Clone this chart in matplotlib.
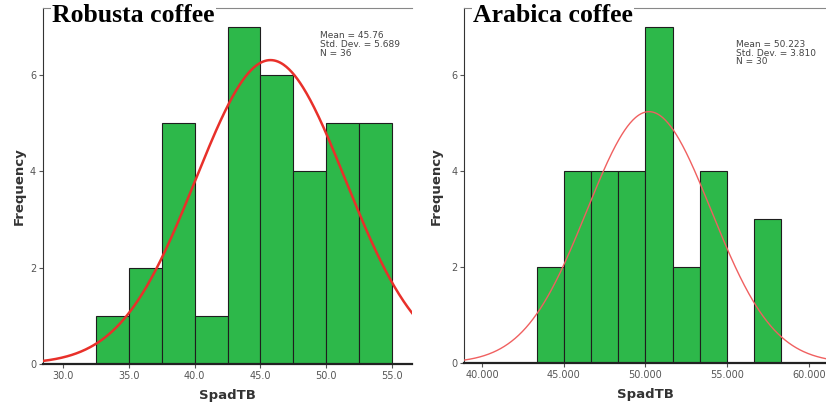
import numpy as np
import matplotlib
matplotlib.use("Agg")
import matplotlib.pyplot as plt

# histogram counts
rob_edges = [32.5, 35.0, 37.5, 40.0, 42.5, 45.0, 47.5, 50.0, 52.5, 55.0]
rob_counts = [1, 2, 5, 1, 7, 6, 4, 5, 5]
rob_mean, rob_sd, rob_n = 45.76, 5.689, 36

ara_edges = [43.333, 45.0, 46.667, 48.333, 50.0, 51.667, 53.333, 55.0, 56.667, 58.333]
ara_counts = [2, 4, 4, 4, 7, 2, 4, 0, 3]
ara_mean, ara_sd, ara_n = 50.223, 3.810, 30

rob_ticks = [30.0, 35.0, 40.0, 45.0, 50.0, 55.0]
ara_ticks = [40.0, 45.0, 50.0, 55.0, 60.0]

green = "#2db84a"
grey_txt = "#555555"


def panel(ax, edges, counts, mean, sd, n, xlim, xticks, tickfmt, title, stats, lw, red, ypad):
    edges = np.array(edges)
    widths = np.diff(edges)
    ax.bar(edges[:-1], counts, width=widths, align="edge", color=green,
           edgecolor="#1e1e1e", linewidth=0.8, zorder=2)
    bw = widths.mean()
    xs = np.linspace(xlim[0], xlim[1], 400)
    ys = n * bw / (sd * np.sqrt(2 * np.pi)) * np.exp(-0.5 * ((xs - mean) / sd) ** 2)
    ax.plot(xs, ys, color=red, linewidth=lw, zorder=3)
    ax.set_xlim(*xlim)
    ax.set_ylim(0, 7.39)
    ax.set_xticks(xticks)
    ax.set_xticklabels([tickfmt % t for t in xticks], fontsize=7, color=grey_txt)
    ax.set_yticks([0, 2, 4, 6])
    ax.set_yticklabels(["0", "2", "4", "6"], fontsize=7, color=grey_txt)
    ax.tick_params(length=3, width=0.8, colors="#555555", pad=2)
    ax.set_xlabel("SpadTB", fontsize=9.5, fontweight="bold", color="#333333", labelpad=6)
    ax.set_ylabel("Frequency", fontsize=9.5, fontweight="bold", color="#333333", labelpad=ypad)
    ax.spines["top"].set_color("#888888")
    ax.spines["top"].set_linewidth(0.8)
    ax.spines["right"].set_visible(False)
    ax.spines["left"].set_color("#333333")
    ax.spines["bottom"].set_color("#222222")
    ax.spines["bottom"].set_linewidth(1.6)
    ax.text(0.025, 1.012, title, transform=ax.transAxes, fontsize=18.5, fontweight="bold",
            family="Liberation Serif", va="top", ha="left", zorder=5, clip_on=False,
            bbox=dict(facecolor="white", edgecolor="none", pad=1))
    ax.text(0.75, stats[1], stats[0], transform=ax.transAxes, fontsize=6.5,
            color="#444444", va="top", ha="left", linespacing=0.95)


fig = plt.figure(figsize=(8.26, 4.08), dpi=100)
ax1 = fig.add_axes([0.052, 0.108, 0.447, 0.872])
ax2 = fig.add_axes([0.562, 0.110, 0.438, 0.870])

panel(ax1, rob_edges, rob_counts, rob_mean, rob_sd, rob_n, (28.48, 56.52), rob_ticks, "%.1f",
      "Robusta coffee", ("Mean = 45.76\nStd. Dev. = 5.689\nN = 36", 0.935), 1.8, "#e8302a", 3)
panel(ax2, ara_edges, ara_counts, ara_mean, ara_sd, ara_n, (38.9, 61.06), ara_ticks, "%.3f",
      "Arabica coffee", ("Mean = 50.223\nStd. Dev. = 3.810\nN = 30", 0.91), 1.0, "#f06060", 6)

fig.savefig("out.png", dpi=100)
